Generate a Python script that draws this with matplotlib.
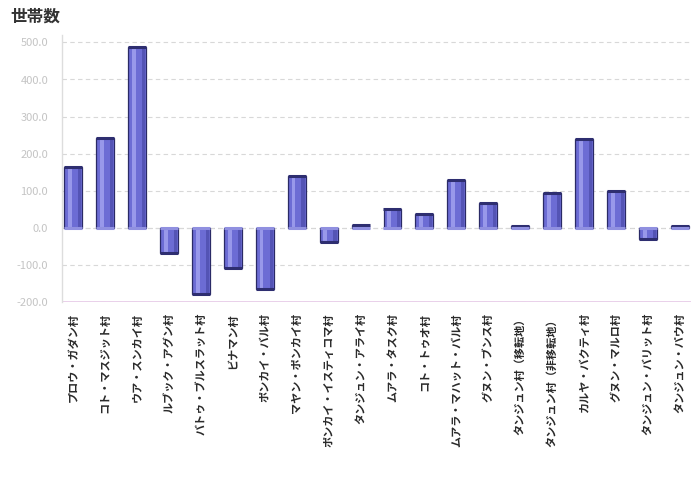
import matplotlib.pyplot as plt
import numpy as np

plt.rcParams['font.family'] = ['Noto Sans CJK JP', 'DejaVu Sans']

# 村ごとの世帯数の増減
villages = [
    'プロウ・ガダン村', 'コト・マスジット村', 'ウア・スンカイ村', 'ルブック・アグン村',
    'バトゥ・ブルスラット村', 'ビナマン村', 'ポンカイ・バル村', 'マヤン・ポンカイ村',
    'ポンカイ・イスティコマ村', 'タンジュン・アライ村', 'ムアラ・タスク村', 'コト・トゥオ村',
    'ムアラ・マハット・バル村', 'グヌン・ブンス村', 'タンジュン村（移転地）',
    'タンジュン村（非移転地）', 'カルヤ・バクティ村', 'グヌン・マルロ村',
    'タンジュン・バリット村', 'タンジュン・パウ村',
]
households = [163, 243, 488, -67, -179, -107, -165, 141, -37, 8,
              50, 38, 130, 66, 5, 95, 240, 100, -30, 6]
yticks = [-200, -100, 0, 100, 200, 300, 400, 500]

x = np.arange(len(villages))
vals = np.array(households)

fig = plt.figure(figsize=(6.91, 4.90), dpi=100)
ax = fig.add_axes([62 / 691, 188 / 490, 1 - 62 / 691, 267 / 490])

# cylinder-ish bars: body, highlight strip, shaded side, end caps
ax.bar(x, vals, width=0.56, color='#6c6cd4', edgecolor='#2a2a66', linewidth=0.9, zorder=3)
ax.bar(x - 0.1, vals, width=0.12, color='#a4a4f0', linewidth=0, alpha=0.8, zorder=4)
ax.bar(x + 0.2, vals, width=0.1, color='#4b4ba8', linewidth=0, alpha=0.7, zorder=4)
ax.scatter(x, vals, marker='_', s=150, color='#2e2e70', linewidths=2.2, zorder=5)
ax.scatter(x, np.zeros_like(vals), marker='_', s=150, color='#9090e0', linewidths=2.2, zorder=5)

ax.set_xlim(-0.35, len(villages) - 0.65)
ax.set_ylim(-200, 520)
ax.set_yticks(yticks)
ax.set_yticklabels(['%.1f' % v for v in yticks], fontsize=8, color='#c4c4c4')
ax.set_xticks(x)
ax.set_xticklabels(villages, rotation=90, fontsize=8, color='#2a2a2a', fontweight='bold')
ax.tick_params(axis='both', length=0)
ax.tick_params(axis='y', pad=10)
ax.tick_params(axis='x', pad=8)

ax.grid(axis='y', color='#d8d8d8', linestyle=(0, (4, 3)), linewidth=0.8, zorder=0)
ax.axhline(0, color='#b8b8b8', linestyle=(0, (4, 3)), linewidth=0.8, zorder=1)
ax.axhline(-200, color='#e6c8e8', linewidth=1.2, zorder=1)
for side in ['top', 'right', 'bottom']:
    ax.spines[side].set_visible(False)
ax.spines['left'].set_color('#dddddd')
ax.spines['left'].set_linewidth(1.0)

fig.text(10 / 691, 1 - 17 / 490, '世帯数', fontsize=12, fontweight='bold',
         color='#333333', va='center', ha='left')

fig.savefig('out.png', dpi=100)
